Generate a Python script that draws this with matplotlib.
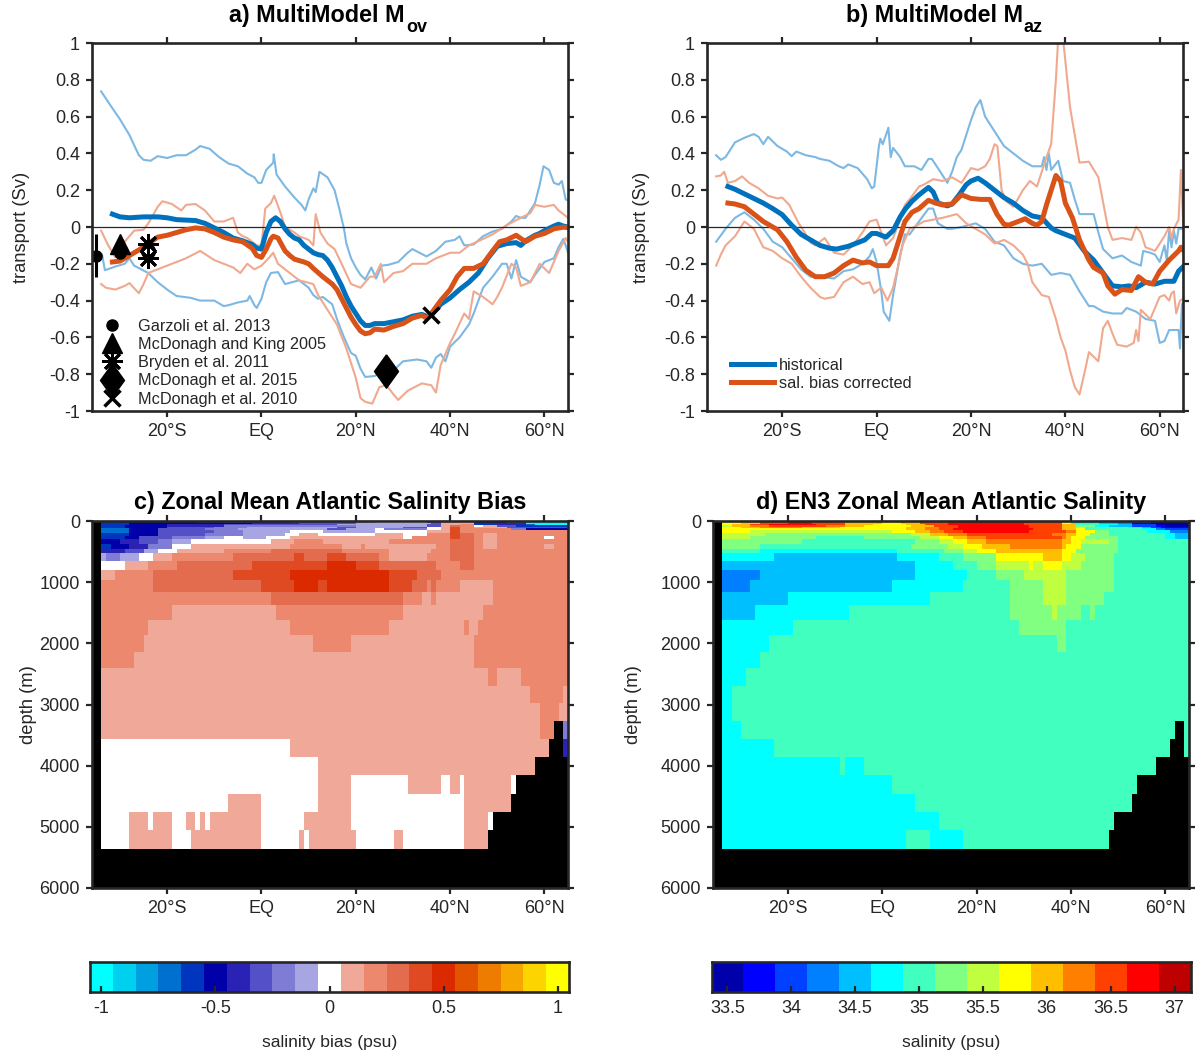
"""Atlantic salinity bias figure: Mov / Maz transports on top, zonal mean salinity sections below."""
import numpy as np
import matplotlib
matplotlib.use("Agg")
import matplotlib.pyplot as plt
from matplotlib.colors import BoundaryNorm, ListedColormap
from matplotlib.lines import Line2D

plt.rcParams["font.family"] = ["Liberation Sans", "DejaVu Sans"]
plt.rcParams["axes.unicode_minus"] = False

# (lon, Sv)
a_hist = [(-31.6,.07),(-30,.055),(-28,.05),(-25,.055),(-22,.055),(-20,.05),(-18,.04),(-14,.035),(-12,.02),(-10,-.005),(-8,-.03),(-6,-.06),(-4,-.075),(-2,-.095),(-1,-.115),(0,-.12),(1,-.03),(2,.03),(3,.05),(4,.03),(5,-.01),(6,-.04),(7,-.06),(8,-.07),(9,-.1),(10,-.12),(11,-.14),(12,-.15),(13,-.155),(14,-.18),(15,-.22),(16,-.27),(17,-.32),(18,-.38),(19,-.43),(20,-.47),(21,-.51),(22,-.535),(23,-.535),(24,-.525),(26,-.525),(28,-.515),(30,-.505),(32,-.485),(34,-.475),(35,-.485),(36,-.48),(37,-.45),(38,-.42),(40,-.385),(42,-.34),(44,-.3),(46,-.25),(48,-.17),(50,-.105),(52,-.09),(54,-.085),(55,-.1),(56,-.075),(58,-.045),(59,-.035),(60,-.02),(62,.005),(63,.015),(64,.005),(65,0)]
a_corr = [(-31.6,-.19),(-30,-.185),(-28,-.155),(-26,-.125),(-24,-.09),(-22,-.055),(-20,-.045),(-18,-.03),(-16,-.015),(-14,-.005),(-12,-.01),(-10,-.03),(-8,-.055),(-6,-.07),(-4,-.08),(-2,-.115),(-1,-.155),(0,-.165),(1,-.12),(2,-.065),(2.5,-.05),(3.5,-.06),(5,-.13),(6,-.155),(7,-.175),(9,-.19),(10,-.2),(11,-.225),(13,-.27),(15,-.31),(16,-.34),(17,-.39),(18,-.44),(19,-.49),(20,-.53),(21,-.565),(22,-.58),(23,-.575),(24,-.555),(26,-.56),(28,-.54),(30,-.525),(32,-.495),(34,-.48),(35,-.495),(36,-.47),(38,-.4),(40,-.34),(41.5,-.27),(43,-.225),(45,-.225),(47,-.2),(49,-.13),(50.5,-.08),(52,-.07),(54,-.045),(56,-.08),(58,-.05),(60,-.035),(62,-.01),(64,-.001),(65,-.003)]
a_hist_hi = [(-34,.737),(-32,.66),(-30,.585),(-28,.5),(-26,.39),(-25,.365),(-23.5,.36),(-22,.385),(-20,.375),(-18,.39),(-16,.39),(-14,.42),(-13,.44),(-11,.425),(-9,.38),(-7,.345),(-5,.33),(-3,.29),(-1.5,.27),(-.7,.24),(0,.24),(1,.31),(2.5,.35),(2.6,.395),(3.2,.285),(5,.22),(7,.16),(8.5,.12),(9.3,.09),(10,.15),(11,.21),(11.5,.19),(12.3,.3),(14,.27),(15.5,.2),(16.5,.1),(17.5,-.01),(18,-.09),(19,-.17),(20,-.22),(21,-.26),(22,-.285),(23.3,-.22),(24.3,-.28),(25.5,-.21),(27,-.205),(29,-.19),(31,-.14),(32,-.12),(35,-.16),(37,-.13),(39,-.08),(41,-.07),(42,-.05),(43,-.1),(45,-.095),(47,-.05),(49,-.025),(51,-.01),(53,.03),(54,.06),(55,.05),(56,.05),(58,.13),(59,.23),(59.8,.33),(61,.31),(62,.24),(63,.23),(63.7,.25),(64.5,.15),(65,.145)]
a_hist_lo = [(-33.8,-.15),(-33.2,-.235),(-31,-.215),(-29,-.2),(-28,-.17),(-27,-.21),(-24,-.25),(-22,-.3),(-20,-.34),(-18,-.375),(-15,-.385),(-13,-.4),(-10,-.4),(-8,-.43),(-7,-.425),(-5,-.41),(-3,-.4),(-2.5,-.375),(-1.5,-.425),(-1,-.44),(0,-.39),(1,-.3),(2,-.25),(3.5,-.245),(5,-.31),(8,-.29),(10,-.33),(11,-.37),(12,-.39),(13,-.38),(15,-.42),(16,-.5),(17.5,-.6),(19,-.685),(20,-.7),(21,-.77),(22,-.815),(24,-.81),(26,-.78),(28,-.78),(30,-.73),(33,-.72),(35,-.73),(36,-.765),(37,-.71),(38,-.69),(39,-.73),(40,-.65),(42,-.6),(44,-.53),(45,-.47),(47,-.33),(49,-.27),(51,-.2),(52,-.2),(53,-.28),(54,-.18),(55,-.27),(57,-.3),(58,-.26),(60,-.19),(62,-.17),(63,-.11),(64,-.065),(64.5,-.1),(65,-.14)]
a_corr_hi = [(-34,-.02),(-32.5,-.1),(-31,-.165),(-30,-.12),(-29,-.08),(-27,-.02),(-25,-.015),(-24,.02),(-22,.11),(-21,.14),(-19,.125),(-17,.09),(-16,.12),(-14,.125),(-12,.09),(-10,.03),(-8,.03),(-6,.05),(-5,-.03),(-4,-.05),(-3,-.06),(-1,-.1),(0,-.1),(.8,.1),(2,.13),(2.7,.17),(4,.08),(5,0),(7,-.03),(8,-.05),(10,-.07),(11,-.1),(11.5,.07),(12.5,-.03),(14,-.09),(15.5,-.12),(17,-.2),(19,-.31),(21,-.33),(22,-.3),(23,-.27),(24,-.27),(25.3,-.2),(26,-.3),(28,-.25),(30,-.24),(32,-.2),(35,-.2),(37,-.17),(40,-.14),(42,-.14),(44,-.1),(47,-.065),(49,-.04),(52,.01),(55,.05),(57,.075),(58,.12),(60,.11),(62,.12),(63,.09),(64,.07),(65,.05)]
a_corr_lo = [(-34,-.31),(-33,-.33),(-31,-.34),(-29,-.32),(-28,-.305),(-26,-.36),(-25,-.31),(-24,-.25),(-21,-.22),(-19,-.2),(-16,-.17),(-13,-.13),(-10,-.18),(-8,-.2),(-6,-.22),(-4.5,-.25),(-3,-.2),(-1.5,-.23),(0,-.21),(1.5,-.17),(2.5,-.14),(3.5,-.2),(4,-.21),(6,-.25),(8,-.29),(11,-.31),(12,-.37),(14,-.45),(16,-.53),(18,-.66),(20,-.82),(21,-.93),(22,-.95),(23.5,-.96),(25,-.87),(26.5,-.86),(28,-.91),(29,-.94),(31,-.89),(34,-.85),(36,-.86),(37,-.9),(38,-.75),(40,-.63),(41,-.58),(43,-.47),(44,-.5),(45,-.35),(47,-.38),(49,-.42),(50,-.38),(51,-.33),(53,-.2),(54,-.22),(55,-.32),(57,-.3),(59,-.2),(61,-.25),(63,-.13),(64.5,-.06),(65,-.08)]

b_hist = [(-31.5,.22),(-30,.205),(-28,.18),(-26,.155),(-24,.13),(-22,.1),(-20,.067),(-18,.01),(-16,-.04),(-14,-.07),(-12,-.1),(-10,-.115),(-8.5,-.12),(-6,-.105),(-4,-.085),(-2.5,-.07),(-1,-.035),(0,-.035),(1.5,-.05),(2,-.055),(3.5,-.02),(5,.055),(6,.095),(7.5,.14),(9,.175),(11,.215),(12,.19),(13,.13),(15,.115),(16,.125),(17.5,.175),(19,.23),(20,.25),(21.5,.265),(23,.24),(25,.2),(27,.16),(29,.13),(31,.09),(33,.06),(35,.05),(37,-.005),(38,-.02),(40,-.04),(42,-.06),(44,-.13),(46,-.18),(48,-.25),(50,-.32),(52,-.325),(53.5,-.32),(55,-.33),(57,-.3),(59,-.31),(61,-.295),(63,-.295),(64,-.24),(65,-.215)]
b_corr = [(-31.5,.13),(-30,.125),(-28,.11),(-26,.07),(-24,.03),(-21,-.015),(-19,-.08),(-17,-.165),(-15,-.235),(-13,-.27),(-11,-.27),(-9,-.25),(-7,-.21),(-5,-.18),(-3,-.195),(-1.5,-.19),(0,-.21),(1.5,-.21),(2.5,-.21),(3.5,-.17),(5,-.05),(6,.03),(7.5,.08),(9,.1),(11,.145),(12.5,.13),(14,.12),(16,.125),(18,.175),(20,.155),(22,.15),(24,.15),(25.5,.07),(27,.015),(28,.01),(30,.03),(31.5,.045),(33,.02),(34,.01),(35,.03),(36,.12),(37,.2),(38,.28),(39,.25),(40,.13),(41.5,.05),(43,-.07),(45,-.18),(46,-.22),(48,-.25),(49,-.32),(50.5,-.365),(52,-.34),(54,-.345),(55.5,-.27),(57,-.3),(58.5,-.31),(60,-.24),(62,-.18),(64,-.13),(64.5,-.11),(65,-.125)]
b_hist_hi = [(-34,.39),(-33,.365),(-32,.38),(-30,.46),(-28,.485),(-26,.505),(-25,.49),(-24,.45),(-23,.49),(-21,.44),(-19,.41),(-18,.385),(-17,.41),(-15,.39),(-13,.38),(-12,.37),(-10,.36),(-8,.33),(-7,.32),(-6,.34),(-4,.32),(-2,.26),(-1,.21),(-.5,.22),(.5,.44),(.8,.48),(1.3,.45),(2,.5),(2.5,.54),(3,.38),(3.5,.43),(5,.38),(6,.33),(8,.33),(9.5,.31),(10,.33),(11,.37),(11.7,.37),(13,.32),(15,.24),(16,.3),(17,.38),(18,.42),(19,.5),(20,.58),(21,.65),(22,.69),(23,.6),(25,.52),(27,.44),(29,.4),(31,.36),(33,.33),(35,.33),(35.5,.38),(36,.31),(36.5,.4),(37,.31),(38.5,.36),(39.5,.25),(41,.24),(42,.15),(43,.07),(46,.07),(47,-.03),(48,-.12),(50,-.17),(52,-.155),(54,-.19),(56,-.21),(56.5,-.13),(58,-.14),(59,-.15),(60,-.19),(61,-.1),(61.5,-.18),(62,-.02),(62.5,-.11),(63,-.02),(63.5,-.09),(64,-.01),(65,-.01)]
b_hist_lo = [(-34,-.08),(-32,-.01),(-30,.05),(-28,.08),(-26,.04),(-24,-.01),(-22,-.08),(-20,-.11),(-18,-.17),(-16,-.23),(-14,-.27),(-12,-.27),(-9,-.28),(-7,-.24),(-5,-.23),(-3,-.2),(-1.5,-.16),(-.8,-.12),(0,-.19),(1,-.35),(1.5,-.46),(2.7,-.51),(3.5,-.37),(5,-.15),(6,-.04),(7,-.04),(9,.03),(11,.1),(12,.1),(13,.02),(15,-.01),(16,-.01),(18,0),(21,.02),(23,-.01),(25,-.08),(27,-.1),(29,-.17),(31,-.2),(33,-.21),(35,-.2),(37,-.26),(39,-.25),(41,-.26),(43,-.35),(45,-.43),(46,-.43),(48,-.46),(50,-.47),(52,-.47),(53,-.44),(55,-.46),(57,-.5),(59,-.51),(60,-.63),(61,-.62),(62,-.56),(64,-.56),(64.3,-.66),(64.7,-.42),(65,-.41)]
b_corr_hi = [(-34,.275),(-33,.28),(-32.3,.3),(-31.5,.24),(-30,.25),(-28.5,.275),(-27,.24),(-25,.21),(-23,.17),(-21,.155),(-20,.16),(-18.5,.12),(-16.5,.02),(-15,-.04),(-14,-.085),(-13,-.1),(-11,-.06),(-9,-.14),(-7,-.15),(-5,-.1),(-3,-.03),(-1.5,.03),(0,.04),(1,-.03),(2,-.1),(3.5,-.06),(5,.04),(6,.12),(7,.15),(9,.22),(10,.23),(12,.26),(14,.25),(16,.27),(18,.24),(20,.32),(21.5,.31),(23,.33),(24,.37),(25,.45),(25.6,.44),(26.5,.2),(27.5,.14),(29,.11),(31,.2),(32.5,.25),(34,.22),(35,.3),(36,.38),(37,.45),(38,.8),(38.5,1.03),(39.5,1.03),(41,.65),(42,.5),(43,.35),(45,.355),(47,.27),(49,0),(50,-.07),(52,-.06),(54,-.07),(55,0),(56,-.03),(57,-.11),(59,-.13),(61,-.05),(62,0),(62.5,-.06),(63,-.01),(64,.04),(64.5,.31),(65,0)]
b_corr_lo = [(-34,-.21),(-33,-.15),(-32,-.1),(-30,-.05),(-28,.03),(-26,-.01),(-24,-.11),(-22,-.13),(-20,-.17),(-18,-.2),(-16,-.27),(-14,-.33),(-12,-.38),(-11,-.39),(-9,-.38),(-7,-.3),(-5,-.27),(-3,-.31),(-1.5,-.3),(-.5,-.36),(1,-.33),(2.3,-.4),(3.5,-.33),(4.5,-.22),(5.5,-.1),(7,-.01),(8,0),(10,.03),(12,.04),(14,.05),(17,.07),(19,.02),(21,-.01),(23,-.04),(25,-.09),(27,-.07),(29,-.1),(31,-.15),(32,-.2),(33,-.3),(35,-.37),(36.5,-.38),(38,-.5),(39,-.6),(40,-.67),(41,-.78),(42,-.87),(43,-.91),(44,-.8),(45,-.68),(47,-.73),(48,-.55),(49,-.51),(50,-.58),(51,-.64),(53,-.65),(54.5,-.63),(55,-.56),(55.5,-.62),(56,-.45),(58,-.5),(60,-.38),(61,-.37),(62,-.4),(62.5,-.36),(63,-.35),(63.5,-.47),(64.3,-.4),(65,-.39)]

# observational estimates, panel a
garzoli = (-35, -.155, .115)
mcdonagh_king = (-30, -.09)
mcdonagh_king_dot = (-30, -.14)
bryden = [(-24, -.09), (-24, -.17)]
bryden_ring = (-24, -.13)
mcdonagh_2015 = (26.5, -.78)
mcdonagh_2010 = (36, -.48)

# section grid
z_edges = [0,15,30,50,70,90,120,150,190,240,300,370,450,530,650,800,960,1155,1380,1617,1860,2134,2406,2690,2978,3266,3560,3860,4160,4460,4757,5057,5362]
lon_edges = np.arange(-34, 66)

# salinity bias, one row per depth level, top down: (lon where the run ends, psu); None is land
bias_rows = [
    [(-28,-.6),(-14,-.5),(-4,-.7),(6,-.4),(20,-.3),(36,0),(40,-.1),(45,.1),(52,-.6),(56,-.7),(65,-1)],
    [(-28,-.6),(-14,-.5),(-4,-.6),(6,-.4),(20,-.3),(24,-.1),(35,0),(38,-.3),(45,.1),(52,-.5),(56,-.7),(65,-1)],
    [(-28,-.6),(-2,-.5),(8,-.4),(20,-.3),(36,-.1),(38,-.3),(45,.1),(50,-.6),(56,-.4),(65,-1)],
    [(-28,-.6),(-20,-.5),(-8,-.4),(16,-.3),(35,-.1),(38,-.3),(42,.1),(45,.2),(50,-.6),(56,-.4),(58,-.7),(65,-1)],
    [(-29,-.6),(-20,-.5),(-8,-.4),(20,-.2),(35,-.1),(38,-.3),(40,.1),(42,.3),(45,.2),(47,0),(50,.1),(54,-.3),(65,-.6)],
    [(-29,-.6),(-20,-.5),(-10,-.3),(-3,-.2),(16,-.1),(20,-.3),(30,-.1),(35,-.3),(38,0),(40,.1),(42,.4),(45,.2),(52,.1),(56,-.3),(65,-.7)],
    [(-28,-.7),(-22,-.5),(-12,-.3),(-5,-.2),(14,-.1),(18,-.3),(24,-.1),(26,0),(35,-.2),(38,0),(40,.1),(42,.4),(45,.2),(53,.2),(56,-.2),(65,-.5)],
    [(-28,-.7),(-22,-.5),(-10,-.3),(-4,-.2),(6,-.1),(13,0),(24,-.1),(35,0),(40,.1),(42,.4),(45,.2),(65,.2)],
    [(-28,-.6),(-22,-.5),(-12,-.3),(-4,-.2),(5,-.1),(8,0),(12,.1),(24,0),(30,.1),(35,0),(40,.2),(42,.4),(45,.3),(47,.2),(50,.1),(65,.2)],
    [(-29,-.6),(-26,-.5),(-19,-.3),(-12,-.2),(-8,-.1),(-4,0),(1,-.1),(6,0),(30,.1),(32,0),(40,.2),(42,.4),(45,.3),(47,.2),(50,.1),(60,.2),(62,0),(65,.2)],
    [(-30,-.5),(-26,-.4),(-22,-.3),(-19,-.2),(-15,-.1),(2,0),(7,.1),(13,.2),(27,.1),(40,.2),(45,.3),(47,.2),(50,.1),(65,.2)],
    [(-32,-.6),(-28,-.5),(-24,-.4),(-19,-.2),(-15,0),(6,.1),(17,.2),(21,.1),(22,.2),(37,.1),(40,.2),(45,.3),(47,.2),(50,.1),(60,.2),(62,.1),(65,.2)],
    [(-29,-.4),(-25,-.3),(-22,-.1),(-18,0),(-8,.1),(2,.2),(17,.3),(27,.2),(36,.1),(40,.2),(45,.3),(65,.2)],
    [(-33,-.1),(-30,-.2),(-26,-.1),(-23,0),(-19,.1),(-6,.2),(7,.3),(9,.4),(14,.3),(18,.4),(25,.3),(27,.2),(35,.1),(40,.2),(45,.3),(65,.2)],
    [(-29,0),(-24,.1),(-18,.2),(-2,.3),(14,.4),(20,.5),(25,.4),(37,.3),(42,.2),(45,.3),(65,.2)],
    [(-31,.1),(-23,.2),(-6,.3),(6,.4),(27,.5),(33,.4),(38,.3),(65,.2)],
    [(-23,.2),(0,.3),(7,.4),(12,.5),(14,.4),(27,.5),(32,.4),(35,.3),(36,.2),(37,.3),(42,.2),(49,.1),(65,.2)],
    [(2,.2),(30,.3),(34,.2),(36,.1),(37,.2),(49,.1),(65,.2)],
    [(-19,.2),(3,.1),(30,.2),(47,.1),(65,.2)],
    [(-24,.2),(6,.1),(27,.2),(43,.1),(44,.2),(46,.1),(65,.2)],
    [(-25,.2),(11,.1),(19,.2),(45,.1),(65,.2)],
    [(-27,.2),(45,.1),(65,.2)],
    [(48,.1),(50,.2),(55,.1),(65,.2)],
    [(57,.1),(64,.2),(65,.1)],
    [(59,.1),(63,.2),(65,.1)],
    [(59,.1),(62,.2),(64,None),(65,-.2)],
    [(6,0),(61,.1),(64,None),(65,-.4)],
    [(12,0),(58,.1),(65,None)],
    [(12,0),(19,.1),(31,0),(38,.1),(40,0),(42,.1),(43,0),(53,.1),(54,0),(65,None)],
    [(-7,0),(0,.1),(12,0),(19,.1),(43,0),(53,.1),(65,None)],
    [(-28,0),(-24,.1),(-23,0),(-19,.1),(-16,0),(-14,.1),(-13,0),(-12,.1),(-11,0),(0,.1),(9,0),(19,.1),(43,0),(48,.1),(49,0),(65,None)],
    [(-28,0),(-19,.1),(-15,0),(0,.1),(8,0),(9,.1),(10,0),(20,.1),(28,0),(30,.1),(43,0),(48,.1),(65,None)],
]

# EN3 zonal mean salinity, same grid
en3_rows = [
    [(-30,35.75),(-26,36),(-20,36.5),(-15,36.75),(-8,36.5),(0,36),(4,35.75),(8,36),(14,36.5),(32,36.75),(38,36.5),(40,35.75),(46,34.75),(49,34.5),(53,34.25),(57,34),(65,33.5)],
    [(-30,35.75),(-26,36),(-20,36.5),(-15,36.75),(-8,36.5),(0,36),(4,35.75),(8,36),(14,36.5),(32,36.75),(38,36.5),(40,35.75),(46,34.75),(49,34.5),(53,34.25),(57,34),(65,33.5)],
    [(-30,35.75),(-26,36),(-20,36.5),(-15,36.75),(-8,36.5),(0,36),(4,35.75),(8,36),(14,36.5),(30,36.75),(38,36.5),(40,35.75),(46,34.75),(50,34.5),(53,34.25),(57,33.75),(65,33.5)],
    [(-32,35.75),(-28,36),(-24,36.5),(-14,36.75),(-8,36.5),(-2,36),(5,35.75),(9,36),(14,36.5),(30,36.75),(38,36.5),(41,36),(46,35),(50,34.75),(53,34.5),(58,34),(65,33.5)],
    [(-32,35.5),(-28,36),(-24,36.25),(-12,36.5),(-8,36.25),(-4,36),(6,35.75),(11,36),(16,36.5),(31,36.75),(38,36.5),(41,36),(45,35.25),(48,34.75),(53,34.5),(58,34),(60,33.75),(65,33.5)],
    [(-30,35.75),(-26,36),(-17,36.25),(-9,36),(5,35.75),(9,36),(12,36.25),(16,36.5),(31,36.75),(38,36.5),(41,36),(43,35.5),(52,35),(55,34.75),(57,34.5),(59,34),(65,33.75)],
    [(5,35.75),(9,36),(12,36.25),(15,36.5),(32,36.75),(38,36.5),(41,36),(43,35.75),(55,35),(58,34.75),(60,34.25),(65,34)],
    [(-28,35.75),(2,35.5),(7,35.75),(10,36),(13,36.25),(17,36.5),(31,36.75),(39,36.5),(41,36.25),(45,35.75),(48,35.25),(56,35),(61,34.75),(65,34.25)],
    [(-25,35.5),(6,35.25),(10,35.5),(14,36),(18,36.25),(36,36.5),(39,36.25),(41,36),(44,35.75),(48,35.25),(60,35),(62,34.75),(65,34.5)],
    [(-28,35.5),(-14,35.25),(-4,35),(8,35.25),(12,35.5),(15,35.75),(18,36),(22,36.25),(38,36.5),(39,36.25),(40,36),(43,35.75),(50,35.25),(60,35),(62,34.75),(65,34.5)],
    [(-17,35.25),(7,35),(12,35.25),(15,35.5),(18,35.75),(22,36),(38,36.25),(40,36),(42,35.75),(48,35.5),(50,35.25),(65,35)],
    [(-26,35.25),(6,35),(14,35.25),(17,35.5),(21,35.75),(27,36),(38,36.25),(39,36),(42,35.75),(50,35.25),(65,35)],
    [(-26,35),(3,34.75),(13,35),(17,35.25),(20,35.5),(24,35.75),(38,36),(41,35.75),(50,35.25),(65,35)],
    [(-23,34.75),(3,34.5),(12,34.75),(17,35),(24,35.25),(34,35.75),(38,36),(40,35.75),(43,35.5),(49,35.25),(65,35)],
    [(7,34.5),(15,34.75),(20,35),(24,35.25),(31,35.5),(32,35.75),(34,35.5),(38,35.75),(42,35.5),(49,35.25),(65,35)],
    [(-26,34.25),(7,34.5),(18,34.75),(24,35),(30,35.25),(39,35.5),(49,35.25),(65,35)],
    [(-28,34.25),(2,34.5),(17,34.75),(27,35),(34,35.25),(39,35.5),(49,35.25),(65,35)],
    [(-20,34.5),(10,34.75),(27,35),(34,35.25),(39,35.5),(47,35.25),(65,35)],
    [(-27,34.5),(-7,34.75),(27,35),(36,35.25),(37,35.5),(42,35.25),(44,35),(45,35.25),(65,35)],
    [(-19,34.75),(29,35),(39,35.25),(65,35)],
    [(-24,34.75),(37,35),(39,35.25),(65,35)],
    [(-26,34.75),(65,35)],
    [(-29,34.75),(65,35)],
    [(-32,34.75),(65,35)],
    [(-32,34.75),(65,35)],
    [(-30,34.75),(62,35),(64,None),(65,35)],
    [(-23,34.75),(61,35),(64,None),(65,35)],
    [(-9,34.75),(-8,35),(-4,34.75),(58,35),(65,None)],
    [(2,34.75),(54,35),(65,None)],
    [(7,34.75),(53,35),(65,None)],
    [(12,34.75),(49,35),(65,None)],
    [(5,34.75),(10,35),(17,34.75),(48,35),(65,None)],
]

bias_colors = ["#00FFFF","#00D0F0","#009FE0","#0070D0","#0035C0","#0000A8","#2A22B4","#5450C8","#7E7CD4","#A8A6E2","#FFFFFF","#F0A898","#EC886E","#E46C4E","#E04A22","#DC2A00","#E25400","#EE7C00","#F6A800","#FCD400","#FFFF00"]
en3_colors = ["#0000AA","#0000FF","#0040FF","#0080FF","#00BFFF","#00FFFF","#40FFBF","#80FF80","#BFFF40","#FFFF00","#FFBF00","#FF8000","#FF4000","#FF0000","#BF0000"]
bias_levels = np.arange(-1.05, 1.1, .1)
en3_levels = np.arange(33.375, 37.2, .25)
bias_ticks = [-1, -.5, 0, .5, 1]
bias_ticklabels = ["-1", "-0.5", "0", "0.5", "1"]
en3_ticks = [33.5, 34, 34.5, 35, 35.5, 36, 36.5, 37]
en3_ticklabels = ["33.5", "34", "34.5", "35", "35.5", "36", "36.5", "37"]

lon_ticks = [-20, 0, 20, 40, 60]
lon_labels = ["20°S", "EQ", "20°N", "40°N", "60°N"]
sv_ticks = [1, .8, .6, .4, .2, 0, -.2, -.4, -.6, -.8, -1]
sv_labels = ["1", "0.8", "0.6", "0.4", "0.2", "0", "-0.2", "-0.4", "-0.6", "-0.8", "-1"]
depth_ticks = [0, 1000, 2000, 3000, 4000, 5000, 6000]

BLUE = "#0072BD"
ORANGE = "#D95319"
LIGHT_BLUE = "#7DB8E3"
LIGHT_ORANGE = "#F0A98E"
EDGE = "#262626"
W, H = 1200, 1055
TICK_FS = 13


def add_axes(fig, left, right, top, bottom):
    return fig.add_axes([left / W, 1 - bottom / H, (right - left) / W, (bottom - top) / H])


def style(ax):
    for s in ax.spines.values():
        s.set_linewidth(1.9)
        s.set_color(EDGE)
    ax.tick_params(direction="out", length=4.5, width=1.6, color=EDGE, labelcolor=EDGE,
                   labelsize=TICK_FS, top=True, right=True, pad=4)


def lon_axis(ax):
    ax.set_xlim(-36, 65)
    ax.set_xticks(lon_ticks)
    ax.set_xticklabels(lon_labels)


def ylabel(ax, text, x_px, left, right):
    ax.set_ylabel(text, fontsize=13.2, color=EDGE)
    ax.yaxis.set_label_coords((x_px - left) / (right - left), .5)


def line_panel(ax, hi_lo_hist, hi_lo_corr, hist, corr):
    for s in hi_lo_hist:
        ax.plot(*np.array(s).T, color=LIGHT_BLUE, lw=1.5)
    for s in hi_lo_corr:
        ax.plot(*np.array(s).T, color=LIGHT_ORANGE, lw=1.5)
    ax.axhline(0, color=EDGE, lw=0.9)
    l1, = ax.plot(*np.array(hist).T, color=BLUE, lw=3.6)
    l2, = ax.plot(*np.array(corr).T, color=ORANGE, lw=3.6)
    lon_axis(ax)
    ax.set_ylim(-1, 1)
    ax.set_yticks(sv_ticks)
    ax.set_yticklabels(sv_labels)
    style(ax)
    return l1, l2


def expand(rows):
    grid = np.full((len(rows), len(lon_edges) - 1), np.nan)
    for i, row in enumerate(rows):
        start = lon_edges[0]
        for end, val in row:
            if val is not None:
                grid[i, start - lon_edges[0]:end - lon_edges[0]] = val
            start = end
    return grid


def section_panel(ax, title, rows, colors, levels):
    ax.set_facecolor("black")
    cmap = ListedColormap(colors)
    norm = BoundaryNorm(levels, cmap.N)
    ax.pcolormesh(lon_edges, z_edges, np.ma.masked_invalid(expand(rows)), cmap=cmap, norm=norm)
    lon_axis(ax)
    ax.set_ylim(6000, 0)
    ax.set_yticks(depth_ticks)
    ax.set_title(title, fontsize=16.8, fontweight="bold", pad=8.5)
    style(ax)
    return cmap, norm


def colour_bar(ax, cmap, norm, levels, ticks, ticklabels, label):
    centres = (levels[:-1] + levels[1:]) / 2
    ax.pcolormesh(levels, [0, 1], centres[None, :], cmap=cmap, norm=norm)
    ax.set_yticks([])
    ax.set_xticks(ticks)
    ax.set_xticklabels(ticklabels)
    ax.set_xlabel(label, fontsize=12.6, color=EDGE, labelpad=12.5)
    for s in ax.spines.values():
        s.set_linewidth(1.9)
        s.set_color(EDGE)
    ax.tick_params(direction="in", length=4, width=1.6, color=EDGE, labelcolor=EDGE,
                   labelsize=TICK_FS, pad=6)


def sub_title(fig, main, sub, end_px):
    # the subscript sits well below the baseline in the original, so two text objects
    fig.text(end_px / W, 1 - 22 / H, main, ha="right", va="baseline", fontsize=16.8, fontweight="bold")
    fig.text((end_px + 1) / W, 1 - 32 / H, sub, ha="left", va="baseline", fontsize=13, fontweight="bold")


fig = plt.figure(figsize=(12, 10.55), dpi=100)

ax_a = add_axes(fig, 91.7, 568, 43, 411)
line_panel(ax_a, [a_hist_hi, a_hist_lo], [a_corr_hi, a_corr_lo], a_hist, a_corr)
ylabel(ax_a, "transport (Sv)", 30, 91.7, 568)
sub_title(fig, "a) MultiModel M", "ov", 405)
ax_a.errorbar(garzoli[0], garzoli[1], yerr=garzoli[2], color="k", marker="o", ms=8, elinewidth=2.2)
ax_a.plot(*mcdonagh_king_dot, "o", color="k", ms=8)
ax_a.plot(*mcdonagh_king, "^", color="k", ms=15)
ax_a.plot(*np.array(bryden).T, ls="none", marker=(8, 2, 0), color="k", ms=15, mew=2)
ax_a.plot(*bryden_ring, "o", mfc="none", mec="k", ms=9, mew=2)
diamond = [(0, 1), (.72, 0), (0, -1), (-.72, 0), (0, 1)]
ax_a.plot(*mcdonagh_2015, marker=diamond, color="k", ms=24, ls="none")
ax_a.plot(*mcdonagh_2010, "x", color="k", ms=11, mew=2.5)

refs = ["Garzoli et al. 2013", "McDonagh and King 2005", "Bryden et al. 2011", "McDonagh et al. 2015", "McDonagh et al. 2010"]
ref_handles = [Line2D([], [], ls="none", color="k", marker="o", ms=8),
               Line2D([], [], ls="none", color="k", marker="^", ms=15),
               Line2D([], [], ls="none", color="k", marker=(8, 2, 0), ms=15, mew=2),
               Line2D([], [], ls="none", color="k", marker=diamond, ms=24),
               Line2D([], [], ls="none", color="k", marker="x", ms=11, mew=2.5)]
ax_a.legend(ref_handles, refs, loc="lower left", bbox_to_anchor=(0, .012), frameon=False, fontsize=11.7,
            labelspacing=.2, handletextpad=.4, handlelength=2.45, borderpad=0, borderaxespad=0,
            labelcolor=EDGE)

ax_b = add_axes(fig, 706.7, 1183.3, 43, 411)
l_hist, l_corr = line_panel(ax_b, [b_hist_hi, b_hist_lo], [b_corr_hi, b_corr_lo], b_hist, b_corr)
ylabel(ax_b, "transport (Sv)", 650, 706.7, 1183.3)
sub_title(fig, "b) MultiModel M", "az", 1023)
ax_b.legend([l_hist, l_corr], ["historical", "sal. bias corrected"], loc="lower left", bbox_to_anchor=(.05, .054),
            frameon=False, fontsize=11.7, labelspacing=.2, handletextpad=.3, handlelength=2.7, borderpad=0,
            borderaxespad=0, labelcolor=EDGE)

ax_c = add_axes(fig, 91.7, 568, 521, 888)
cmap_c, norm_c = section_panel(ax_c, "c) Zonal Mean Atlantic Salinity Bias", bias_rows, bias_colors, bias_levels)
ylabel(ax_c, "depth (m)", 37, 91.7, 568)
ax_d = add_axes(fig, 712.7, 1189, 521, 888)
cmap_d, norm_d = section_panel(ax_d, "d) EN3 Zonal Mean Atlantic Salinity", en3_rows, en3_colors, en3_levels)
ylabel(ax_d, "depth (m)", 642, 712.7, 1189)

cb_c = add_axes(fig, 90, 569, 962, 992)
colour_bar(cb_c, cmap_c, norm_c, bias_levels, bias_ticks, bias_ticklabels, "salinity bias (psu)")
cb_d = add_axes(fig, 711.5, 1190.5, 962, 992)
colour_bar(cb_d, cmap_d, norm_d, en3_levels, en3_ticks, en3_ticklabels, "salinity (psu)")

fig.savefig("out.png", dpi=100)
